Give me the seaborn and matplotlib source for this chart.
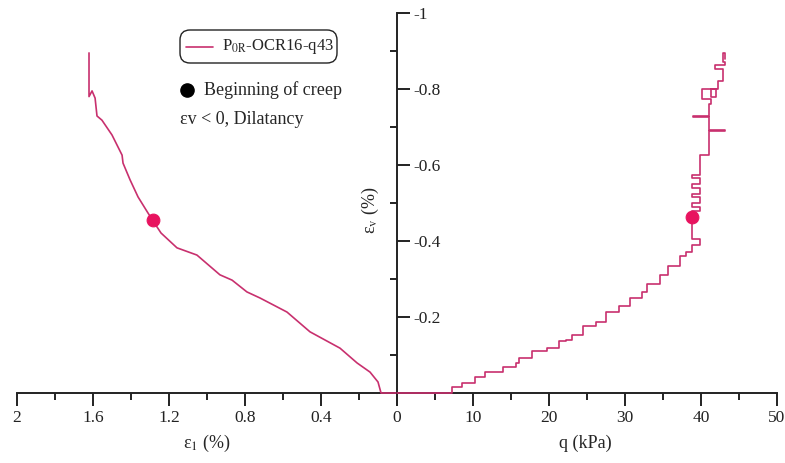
import matplotlib
matplotlib.use("Agg")
import matplotlib.pyplot as plt
import seaborn as sns
import pandas as pd
from matplotlib.ticker import MultipleLocator, FuncFormatter
from matplotlib.patches import FancyBboxPatch

# ---------------- data ----------------
# Left panel: axial strain eps1 (%) vs volumetric strain eps_v (%)
eps1 = [0, 0.084, 0.1, 0.142, 0.21, 0.3, 0.458, 0.579, 0.721, 0.79, 0.868, 0.932,
        1.053, 1.158, 1.242, 1.284, 1.311, 1.363, 1.405, 1.442, 1.447, 1.5, 1.553,
        1.579, 1.589, 1.605, 1.621, 1.621]
ev_left = [0, 0, -0.029, -0.055, -0.079, -0.118, -0.161, -0.213, -0.25, -0.266, -0.297,
           -0.311, -0.363, -0.382, -0.421, -0.453, -0.474, -0.516, -0.561, -0.605,
           -0.626, -0.679, -0.718, -0.729, -0.776, -0.795, -0.78, -0.895]

# Right panel: deviator stress q (kPa) vs eps_v (%) (stepped record)
q = [0, 7.2, 8.5, 10.3, 11.6, 14.0, 15.6, 16.0, 17.8, 19.8, 21.3, 22.2, 23.0, 24.5,
     26.2, 27.5, 29.2, 30.6, 32.3, 32.9, 34.6, 35.7, 37.2, 38.0, 38.8, 39.9, 38.86,
     38.86, 39.9, 38.86, 39.9, 38.86, 39.9, 38.86, 39.9, 38.86, 39.9, 39.9, 41.05,
     43.2, 41.05, 39.0, 41.05, 41.3, 40.1, 42.0, 41.3, 42.3, 42.9, 41.8, 43.2, 42.9, 43.2]
ev_right = [0, -0.015, -0.026, -0.042, -0.055, -0.068, -0.08, -0.092, -0.11, -0.118,
            -0.137, -0.14, -0.152, -0.177, -0.186, -0.212, -0.23, -0.25, -0.265, -0.287,
            -0.31, -0.335, -0.36, -0.372, -0.39, -0.405, -0.418, -0.48, -0.49, -0.50,
            -0.515, -0.525, -0.54, -0.55, -0.565, -0.575, -0.59, -0.626, -0.69, -0.692,
            -0.727, -0.73, -0.76, -0.775, -0.80, -0.78, -0.80, -0.82, -0.852, -0.862,
            -0.87, -0.895, -0.88]

# Beginning of creep
creep_eps1 = [1.284]
creep_ev_left = [-0.455]
creep_q = [38.86]
creep_ev_right = [-0.464]

series_label = "P$_{\\rm 0R}$-OCR16-q43"

# ---------------- style ----------------
sns.set_style("ticks")
plt.rcParams["font.family"] = ["Liberation Serif", "DejaVu Serif"]
plt.rcParams["mathtext.fontset"] = "stix"

LINE = "#c8306e"
DOT = "#e8135f"
W, H = 785, 463
fig = plt.figure(figsize=(W / 100, H / 100), dpi=100)


def rect(x0, x1, y0, y1):
    return [x0 / W, 1 - y1 / H, (x1 - x0) / W, (y1 - y0) / H]


axL = fig.add_axes(rect(17, 397, 13, 393))
axR = fig.add_axes(rect(397, 777, 13, 393))

dfL = pd.DataFrame({"eps1": eps1, "ev": ev_left})
dfR = pd.DataFrame({"q": q, "ev": ev_right})

sns.lineplot(data=dfL, x="eps1", y="ev", sort=False, estimator=None,
             color=LINE, lw=1.2, ax=axL)
sns.lineplot(data=dfR, x="q", y="ev", sort=False, estimator=None,
             color=LINE, lw=1.2, drawstyle="steps-post", ax=axR)
for ax in (axL, axR):
    for ln in ax.lines:
        ln.set_clip_on(False)
        ln.set_zorder(3)
sns.scatterplot(x=creep_eps1, y=creep_ev_left, s=85, color=DOT, edgecolor=DOT,
                ax=axL, zorder=4)
sns.scatterplot(x=creep_q, y=creep_ev_right, s=85, color=DOT, edgecolor=DOT,
                ax=axR, zorder=4)

for ax in (axL, axR):
    ax.set_ylim(0, -1)
    ax.set_xlabel("")
    ax.set_ylabel("")
    ax.patch.set_alpha(0)
    for s in ax.spines.values():
        s.set_linewidth(1.4)
        s.set_color("#222222")
        s.set_zorder(2)
    ax.spines["top"].set_visible(False)

axL.set_xlim(2, 0)
axR.set_xlim(0, 50)

axL.spines["left"].set_visible(False)
axR.spines["left"].set_visible(False)
axR.spines["right"].set_visible(False)

fmt0 = FuncFormatter(lambda v, p: "" if abs(v) < 1e-9 else f"{v:g}")
fmt = FuncFormatter(lambda v, p: f"{v:g}")

axL.xaxis.set_major_locator(MultipleLocator(0.4))
axL.xaxis.set_minor_locator(MultipleLocator(0.2))
axL.xaxis.set_major_formatter(fmt0)
axR.xaxis.set_major_locator(MultipleLocator(10))
axR.xaxis.set_minor_locator(MultipleLocator(5))
axR.xaxis.set_major_formatter(fmt)

axL.yaxis.tick_right()
axL.yaxis.set_major_locator(MultipleLocator(0.2))
axL.yaxis.set_minor_locator(MultipleLocator(0.1))
axL.yaxis.set_major_formatter(fmt0)
axR.tick_params(axis="y", which="both", left=False, right=False, labelleft=False)

for ax in (axL, axR):
    ax.tick_params(axis="x", which="major", direction="out", length=9, width=1.4,
                   pad=3, labelsize=12.5, colors="#222222")
    ax.tick_params(axis="x", which="minor", direction="out", length=5, width=1.4,
                   colors="#222222")
axL.tick_params(axis="y", which="major", direction="out", length=9, width=1.4,
                pad=3, labelsize=12.5, colors="#222222")
axL.tick_params(axis="y", which="minor", direction="in", length=5, width=1.4,
                colors="#222222")

# axis titles
fig.text(207 / W, 1 - 443 / H, "ε$_1$ (%)", ha="center", va="center", fontsize=13)
fig.text(585 / W, 1 - 443 / H, "q (kPa)", ha="center", va="center", fontsize=13)
fig.text(370 / W, 1 - 210 / H, "ε$_{\\rm v}$ (%)", ha="center", va="center",
         fontsize=13, rotation=90)

# legend / annotations in pixel space
ov = fig.add_axes([0, 0, 1, 1])
ov.set_xlim(0, W)
ov.set_ylim(H, 0)
ov.axis("off")
ov.patch.set_alpha(0)
ov.add_patch(FancyBboxPatch((180, 30), 157, 33,
                            boxstyle="round,pad=0,rounding_size=10",
                            fc="white", ec="#222222", lw=1.0))
ov.plot([186, 213], [47, 47], color=LINE, lw=1.2)
ov.text(222, 47, series_label, ha="left", va="center", fontsize=12)
ov.plot([187], [90], "o", color="black", ms=9.5)
ov.text(204, 90, "Beginning of creep", ha="left", va="center", fontsize=13)
ov.text(180, 120, "εv < 0, Dilatancy", ha="left", va="center", fontsize=13)

fig.savefig("out.png", dpi=100)
